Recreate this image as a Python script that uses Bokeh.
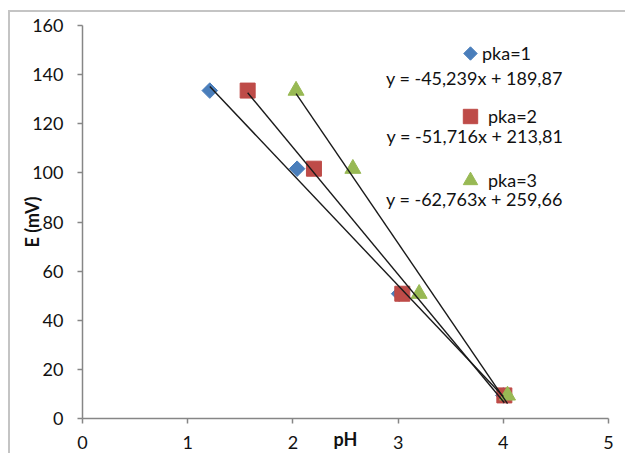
import numpy as np
from bokeh.plotting import figure
from bokeh.models import Legend, LegendItem, Label, Range1d, FixedTicker
from bokeh.embed import file_html
from bokeh.resources import INLINE

# ---- data ----
E_mV = [133.5, 101.7, 50.8, 9.4]
ph_pka1 = [1.21, 2.04, 3.01, 4.00]
ph_pka2 = [1.57, 2.20, 3.04, 4.01]
ph_pka3 = [2.03, 2.57, 3.20, 4.04]
series_names = ["pka=1", "pka=2", "pka=3"]
slopes = [-45.239, -51.716, -62.763]
intercepts = [189.87, 213.81, 259.66]
equations = ["y = -45,239x + 189,87", "y = -51,716x + 213,81", "y = -62,763x + 259,66"]
x_ticks = [0, 1, 2, 3, 4, 5]
y_ticks = [0, 20, 40, 60, 80, 100, 120, 140, 160]

FONT = "Lato"
FS = "18px"
TXT = "#111111"
AX = "#868686"

p = figure(width=617, height=443, output_backend="svg", toolbar_location=None,
           x_range=Range1d(0, 5), y_range=Range1d(0, 160),
           min_border_left=72, min_border_right=19, min_border_top=13, min_border_bottom=37)
p.styles = {"margin-left": "8px", "margin-top": "10px",
            "border-top": "2px solid #c4c4c4", "border-left": "2px solid #c4c4c4"}
p.outline_line_color = None
p.grid.visible = False
p.background_fill_color = "white"
p.border_fill_color = "white"

for ax in (p.xaxis[0], p.yaxis[0]):
    ax.axis_line_color = AX
    ax.axis_line_width = 1.5
    ax.major_tick_line_color = AX
    ax.major_tick_line_width = 1.5
    ax.major_tick_out = 5
    ax.major_tick_in = 0
    ax.minor_tick_line_color = None
    ax.major_label_text_font = FONT
    ax.major_label_text_font_size = FS
    ax.major_label_text_color = TXT
    ax.axis_label_text_font = FONT
    ax.axis_label_text_font_size = FS
    ax.axis_label_text_font_style = "bold"
    ax.axis_label_text_color = TXT

p.xaxis.ticker = FixedTicker(ticks=x_ticks)
p.yaxis.ticker = FixedTicker(ticks=y_ticks)
p.xaxis.major_label_standoff = 12
p.yaxis.major_label_standoff = 14
p.xaxis.axis_label = "pH"
p.yaxis.axis_label = "E (mV)"
p.xaxis.axis_label_standoff = -24
p.yaxis.axis_label_standoff = -14

colors = ["#4A7EBB", "#BE4B48", "#98B954"]
ph_series = [ph_pka1, ph_pka2, ph_pka3]

r1 = p.scatter(ph_pka1, E_mV, marker="square", angle=np.pi / 4, size=11,
               fill_color=colors[0], line_color=colors[0])
r2 = p.scatter(ph_pka2, E_mV, marker="square", size=15,
               fill_color=colors[1], line_color=colors[1])
r3 = p.scatter(ph_pka3, E_mV, marker="triangle", size=16,
               fill_color=colors[2], line_color=colors[2])

# linear trendlines over each series' pH span
for ph, m, b in zip(ph_series, slopes, intercepts):
    xs = [min(ph), max(ph)]
    ys = [m * x + b for x in xs]
    p.line(xs, ys, line_color="#1a1a1a", line_width=1.4)

# legend key for the diamond series (a rotated square, which the legend cannot draw)
key1 = p.scatter([3.688], [148.6], marker="square", angle=np.pi / 4, size=9.5,
                 fill_color=colors[0], line_color=colors[0])
proxy1 = p.scatter([], [], marker="square", fill_alpha=0, line_alpha=0)

leg_specs = [
    (proxy1, series_names[0], (376, 353), 24, 0),
    (r2, series_names[1], (370, 284), 36, -6),
    (r3, series_names[2], (370, 220), 36, -6),
]
for r, name, loc, gsz, stand in leg_specs:
    leg = Legend(items=[LegendItem(label=name, renderers=[r])], location=loc,
                 glyph_width=gsz, glyph_height=gsz, label_standoff=stand,
                 padding=0, margin=0, spacing=0, border_line_color=None,
                 background_fill_alpha=0, label_text_font=FONT,
                 label_text_font_size=FS, label_text_color=TXT)
    p.add_layout(leg)

eq_x = [3.725, 3.73, 3.725]
eq_y = [138.8, 115.2, 89.2]
for t, x, y in zip(equations, eq_x, eq_y):
    p.add_layout(Label(x=x, y=y, text=t, text_align="center", text_baseline="middle",
                       text_font=FONT, text_font_size=FS, text_color=TXT))

open("out.html", "w").write(file_html(p, INLINE))
